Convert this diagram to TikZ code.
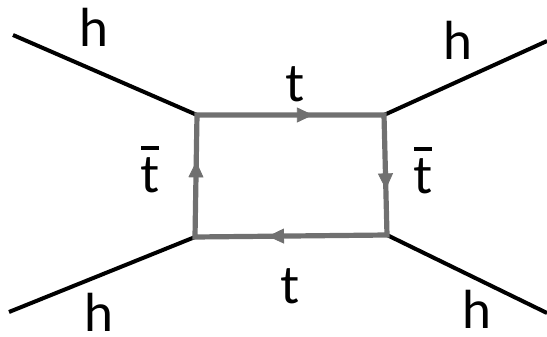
\documentclass[tikz,border=0pt]{standalone}
\usepackage{fontspec}
\setmainfont{Lato}
\usetikzlibrary{decorations.markings,arrows.meta}
\newcommand{\tbarlabel}{\ooalign{t\cr\hidewidth\raisebox{0.82em}{\rule{0.34em}{0.07em}}\hidewidth\cr}}

\begin{document}
\begin{tikzpicture}[x=0.5pt, y=-0.5pt,
  leg/.style={line width=2pt, black},
  loopline/.style={line width=2.6pt, black!56, line join=miter},
  flow/.style={black!56, postaction={decorate},
    decoration={markings, mark=at position 0.62 with {\arrow{Triangle[length=8pt,width=7.5pt]}}}},
  lbl/.style={inner sep=0pt, font=\fontsize{26}{30}\selectfont}]
  \useasboundingbox (0,0) rectangle (547,337);
  % loop corners
  \coordinate (tl) at (197,115);
  \coordinate (tr) at (384,115);
  \coordinate (br) at (387,235);
  \coordinate (bl) at (195,237);
  % external ends
  \coordinate (etl) at (13,35);
  \coordinate (etr) at (547,41);
  \coordinate (ebl) at (9,312);
  \coordinate (ebr) at (547,313);
  \foreach \a/\b in {etl/tl,tr/etr,ebl/bl,br/ebr}{ \draw[leg] (\a) -- (\b); }
  \draw[loopline] (tl) -- (tr) -- (br) -- (bl) -- cycle;
  \foreach \a/\b in {tl/tr,tr/br,br/bl,bl/tl}{ \path[flow] (\a) -- (\b); }
  % labels
  \node[lbl] (htl) at (94,27) {h};
  \node[lbl] (htr) at (458,40) {h};
  \node[lbl] (hbl) at (99,312) {h};
  \node[lbl] (hbr) at (477,309) {h};
  \node[lbl] (ttop) at (295,84) {t};
  \node[lbl] (tbot) at (290,286) {t};
  \node[lbl] (tbl) at (150,175) {\tbarlabel};
  \node[lbl] (tbr) at (423,176) {\tbarlabel};
\end{tikzpicture}
\end{document}
